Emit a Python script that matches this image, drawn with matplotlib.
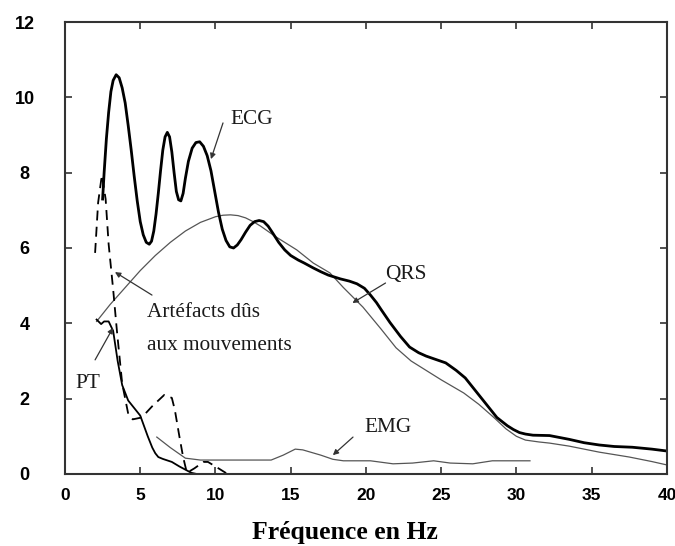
import matplotlib
matplotlib.use("Agg")
import matplotlib.pyplot as plt

# ---- data ----
ecg_x = [2.5, 2.6, 2.75, 2.9, 3.05, 3.2, 3.4, 3.6, 3.8, 4.0, 4.2, 4.4, 4.6, 4.8, 5.0, 5.2,
         5.4, 5.6, 5.75, 5.9, 6.05, 6.2, 6.35, 6.5, 6.65, 6.8, 6.95, 7.1, 7.25, 7.4, 7.55,
         7.7, 7.85, 8.0, 8.2, 8.45, 8.7, 8.95, 9.2, 9.45, 9.7, 9.95, 10.2, 10.45, 10.7,
         10.95, 11.2, 11.45, 11.7, 12.0, 12.3, 12.6, 12.9, 13.2, 13.5, 13.8, 14.2, 14.6,
         15.0, 15.5, 15.9, 16.5, 17.0, 17.5, 18.3, 18.9, 19.4, 19.9, 20.3, 20.7, 21.0, 21.6,
         22.3, 22.9, 23.5, 24.0, 24.5, 25.3, 26.0, 26.6, 27.3, 28.0, 28.7, 29.4, 29.8, 30.2,
         30.6, 31.1, 32.2, 33.5, 34.5, 35.5, 36.5, 37.7, 39.0, 40.0]
ecg_y = [7.3, 8.0, 8.9, 9.6, 10.15, 10.45, 10.6, 10.52, 10.25, 9.85, 9.25, 8.6, 7.9, 7.25,
         6.7, 6.35, 6.15, 6.1, 6.18, 6.45, 6.9, 7.45, 8.05, 8.6, 8.95, 9.07, 8.95, 8.55,
         8.0, 7.5, 7.28, 7.25, 7.45, 7.85, 8.3, 8.65, 8.8, 8.82, 8.7, 8.45, 8.05, 7.5, 6.95,
         6.5, 6.2, 6.03, 6.0, 6.08, 6.22, 6.42, 6.6, 6.7, 6.73, 6.7, 6.58, 6.4, 6.15, 5.95,
         5.8, 5.68, 5.6, 5.47, 5.37, 5.28, 5.18, 5.12, 5.05, 4.93, 4.75, 4.55, 4.37, 4.02,
         3.65, 3.37, 3.22, 3.13, 3.06, 2.95, 2.75, 2.55, 2.2, 1.85, 1.5, 1.28, 1.18, 1.1,
         1.06, 1.03, 1.02, 0.92, 0.83, 0.77, 0.73, 0.71, 0.66, 0.61]

qrs_x = [2.1, 3.0, 4.0, 5.0, 6.0, 7.0, 8.0, 9.0, 10.0, 10.5, 11.0, 11.5, 12.0, 12.5, 13.0,
         14.0, 15.0, 15.4, 16.5, 17.6, 18.5, 19.8, 21.0, 22.0, 23.0, 24.0, 25.0, 25.6, 26.5,
         27.5, 28.5, 29.3, 30.0, 30.6, 31.5, 32.2, 33.5, 35.5, 37.5, 39.0, 40.0]
qrs_y = [4.05, 4.5, 4.95, 5.4, 5.8, 6.15, 6.45, 6.68, 6.83, 6.87, 6.88, 6.86, 6.8, 6.7, 6.58,
         6.3, 6.05, 5.95, 5.6, 5.34, 4.95, 4.43, 3.85, 3.35, 3.0, 2.75, 2.5, 2.36, 2.15,
         1.85, 1.5, 1.2, 1.0, 0.9, 0.85, 0.82, 0.74, 0.58, 0.45, 0.33, 0.24]

pt_x = [2.1, 2.4, 2.6, 2.9, 3.2, 3.5, 3.8, 4.2, 5.0, 5.5, 5.8, 6.0, 6.2, 6.5, 7.1, 7.6, 8.4, 8.75]
pt_y = [4.1, 3.98, 4.05, 4.05, 3.8, 3.0, 2.36, 1.95, 1.55, 1.0, 0.7, 0.55, 0.45, 0.4, 0.32, 0.2, 0.03, 0.0]

art_x = [2.0, 2.2, 2.45, 2.7, 2.9, 3.2, 3.45, 3.8, 4.2, 4.5, 5.1, 5.8, 6.6, 7.1, 7.3, 7.6,
         7.85, 8.1, 8.6, 9.2, 9.5, 10.2, 10.8]
art_y = [5.87, 7.2, 7.94, 7.3, 6.1, 4.9, 3.8, 2.4, 1.6, 1.45, 1.5, 1.8, 2.1, 2.02, 1.7, 1.0,
         0.45, 0.03, 0.15, 0.32, 0.32, 0.15, 0.0]

emg_x = [6.1, 7.0, 8.0, 9.0, 11.6, 13.7, 14.5, 15.3, 15.8, 17.0, 17.8, 18.5, 20.3, 21.8,
         23.1, 24.5, 25.6, 27.1, 28.4, 30.9]
emg_y = [0.98, 0.7, 0.42, 0.37, 0.37, 0.37, 0.5, 0.66, 0.64, 0.5, 0.39, 0.35, 0.35, 0.27,
         0.29, 0.35, 0.29, 0.27, 0.35, 0.35]

x_ticks = [0, 5, 10, 15, 20, 25, 30, 35, 40]
y_ticks = [0, 2, 4, 6, 8, 10, 12]

# labels: (text, text x, text baseline y, arrow start, arrow tip)
labels = [
    ("ECG", 10.96, 9.29, (10.5, 9.32), (9.7, 8.36)),
    ("QRS", 21.26, 5.18, (21.3, 5.07), (19.1, 4.54)),
    ("Artéfacts dûs", 5.45, 4.17, (5.78, 4.75), (3.32, 5.36)),
    ("aux mouvements", 5.45, 3.29, None, None),
    ("PT", 0.66, 2.28, (2.0, 3.03), (3.19, 3.88)),
    ("EMG", 19.93, 1.115, (19.14, 0.98), (17.8, 0.5)),
]

# ---- figure ----
fig = plt.figure(figsize=(6.75, 5.46), dpi=100)
ax = fig.add_axes([0.0963, 0.1319, 0.8917, 0.8278])

ax.plot(qrs_x, qrs_y, color="#555555", lw=0.9)
ax.plot(emg_x, emg_y, color="#555555", lw=0.9)
ax.plot(art_x, art_y, color="black", lw=1.3, ls=(0, (5.5, 3.5)))
ax.plot(pt_x, pt_y, color="black", lw=1.3)
ax.plot(ecg_x, ecg_y, color="black", lw=2.0, solid_joinstyle="round")

ax.set_xlim(0, 40)
ax.set_ylim(0, 12)
ax.set_xticks(x_ticks)
ax.set_yticks(y_ticks)
ax.set_xticklabels([str(t) for t in x_ticks], fontfamily="Liberation Sans",
                   fontweight="bold", fontsize=12.5)
ax.set_yticklabels([str(t) for t in y_ticks], fontfamily="Liberation Sans",
                   fontweight="bold", fontsize=13)
ax.tick_params(direction="in", length=5, width=1.2, color="#333333",
               top=True, right=True, pad=10)
ax.tick_params(axis="y", pad=29)
for lab in ax.get_yticklabels():
    lab.set_horizontalalignment("center")
for s in ax.spines.values():
    s.set_color("#333333")
    s.set_linewidth(1.5)

ax.set_xlabel("Fréquence en Hz", fontfamily="Liberation Serif", fontweight="bold",
              fontsize=18.5)
ax.xaxis.set_label_coords(0.465, -0.103)

serif = "Liberation Serif"
for txt, tx, ty, a0, a1 in labels:
    ax.text(tx, ty, txt, fontfamily=serif, fontsize=15.3, ha="left", va="baseline",
            color="#1a1a1a")
    if a0 is not None:
        ax.annotate("", xy=a1, xytext=a0,
                    arrowprops=dict(arrowstyle="-|>", color="#333333", lw=0.9,
                                    mutation_scale=8, shrinkA=0, shrinkB=0))

fig.savefig("out.png", dpi=100)
